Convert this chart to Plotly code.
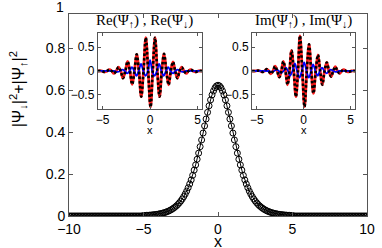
import numpy as np
import plotly.graph_objects as go

# ---- main curve |psi_down|^2 + |psi_up|^2 (step 0.1) ----
x_main = np.round(np.linspace(-10, 10, 201), 2)
dens_center = [
    0.0023, 0.0026, 0.0030, 0.0035, 0.0040, 0.0046, 0.0053, 0.0061, 0.0070, 0.0080,
    0.0092, 0.0106, 0.0122, 0.0140, 0.0160, 0.0184, 0.0211, 0.0242, 0.0278, 0.0318,
    0.0365, 0.0418, 0.0478, 0.0546, 0.0624, 0.0712, 0.0812, 0.0925, 0.105, 0.119,
    0.135, 0.153, 0.172, 0.194, 0.219, 0.244, 0.271, 0.300, 0.331, 0.363,
    0.396, 0.430, 0.463, 0.495, 0.526, 0.554, 0.578, 0.597, 0.612, 0.621,
    0.624,
    0.621, 0.612, 0.597, 0.578, 0.554, 0.526, 0.495, 0.463, 0.430, 0.396,
    0.363, 0.331, 0.300, 0.271, 0.244, 0.219, 0.194, 0.172, 0.153, 0.135,
    0.119, 0.105, 0.0925, 0.0812, 0.0712, 0.0624, 0.0546, 0.0478, 0.0418, 0.0365,
    0.0318, 0.0278, 0.0242, 0.0211, 0.0184, 0.0160, 0.0140, 0.0122, 0.0106, 0.0092,
    0.0080, 0.0070, 0.0061, 0.0053, 0.0046, 0.0040, 0.0035, 0.0030, 0.0026, 0.0023,
]
dens_tail_left = [0.0] * 50
dens_tail_right = [0.0] * 50
dens_main = dens_tail_left + dens_center + dens_tail_right

# ---- inset 1: Re(psi_up) (red) and Re(psi_down) (blue) ----
re_up_x = [-5.5, -5.1, -4.75, -4.51, -4.27, -4.03, -3.8, -3.56, -3.32, -3.08, -2.85, -2.6,
           -2.36, -2.12, -1.88, -1.64, -1.41, -1.17, -0.93, -0.69, -0.45, -0.2, 0.05, 0.28,
           0.52, 0.76, 1.0, 1.23, 1.47, 1.71, 1.95, 2.18, 2.41, 2.64, 2.87, 3.1, 3.33, 3.56,
           3.8, 4.03, 4.27, 4.51, 4.75, 5.1, 5.5]
re_up_y = [0, 0, -0.02, 0, 0.03, 0, -0.05, 0, 0.08, 0, -0.15, 0, 0.2, 0, -0.28, 0, 0.35, 0,
           -0.54, 0, 0.7, 0, -0.76, 0, 0.7, 0, -0.54, 0, 0.36, 0, -0.29, 0, 0.19, 0, -0.15, 0,
           0.08, 0, -0.05, 0, 0.03, 0, -0.02, 0, 0]
re_dn_x = [-5.5, -3.8, -3.4, -3.15, -2.9, -2.65, -2.4, -2.15, -1.9, -1.67, -1.43, -1.19,
           -0.95, -0.71, -0.47, -0.23, 0.0, 0.23, 0.47, 0.71, 0.95, 1.19, 1.43, 1.67, 1.9,
           2.15, 2.4, 2.65, 2.9, 3.15, 3.4, 3.8, 5.5]
re_dn_y = [0, 0, -0.02, 0, 0.03, 0, -0.05, 0, 0.08, 0, -0.1, 0, 0.15, 0, -0.1, 0, 0.23, 0,
           -0.1, 0, 0.15, 0, -0.1, 0, 0.08, 0, -0.05, 0, 0.03, 0, -0.02, 0, 0]

# ---- inset 2: Im(psi_up) (red) and Im(psi_down) (blue) ----
im_up_x = [-5.5, -5.15, -4.85, -4.62, -4.4, -4.17, -3.95, -3.72, -3.5, -3.27, -3.05, -2.82,
           -2.6, -2.38, -2.17, -1.94, -1.72, -1.51, -1.3, -1.06, -0.83, -0.61, -0.4, -0.15,
           0.09, 0.33, 0.57, 0.8, 1.04, 1.28, 1.52, 1.75, 1.98, 2.22, 2.46, 2.69, 2.92, 3.14,
           3.37, 3.6, 3.82, 4.05, 4.27, 4.5, 4.72, 5.1, 5.5]
im_up_y = [0, 0, 0.01, 0, -0.02, 0, 0.04, 0, -0.06, 0, 0.1, 0, -0.13, 0, 0.2, 0, -0.29, 0,
           0.43, 0, -0.54, 0, 0.74, 0, -0.75, 0, 0.56, 0, -0.47, 0, 0.34, 0, -0.29, 0, 0.18, 0,
           -0.12, 0, 0.09, 0, -0.05, 0, 0.03, 0, -0.02, 0, 0]
im_dn_x = [-5.5, -3.8, -3.4, -3.15, -2.9, -2.65, -2.4, -2.15, -1.9, -1.67, -1.45, -1.2,
           -0.95, -0.7, -0.45, -0.2, 0.05, 0.3, 0.55, 0.78, 1.0, 1.25, 1.5, 1.72, 1.95,
           2.2, 2.45, 2.67, 2.9, 3.15, 3.4, 3.8, 5.5]
im_dn_y = [0, 0, -0.02, 0, 0.03, 0, -0.04, 0, 0.07, 0, -0.1, 0, 0.16, 0, -0.14, 0, 0.18, 0,
           -0.14, 0, 0.14, 0, -0.1, 0, 0.07, 0, -0.05, 0, 0.03, 0, -0.02, 0, 0]

main_xticks = [-10, -5, 0, 5, 10]
main_yticks = [0, 0.2, 0.4, 0.6, 0.8]
main_ytop_label = "1"
inset_xticks = [-5, 0, 5]
inset_yticks = [-0.5, 0, 0.5]

SANS = "Liberation Sans, Arial, sans-serif"
SERIF = "Liberation Serif, Times New Roman, serif"
AXC = "#555"

fig = go.Figure()

fig.add_trace(go.Scatter(
    x=x_main, y=dens_main, mode="lines+markers",
    line=dict(color="black", width=1),
    marker=dict(symbol="circle-open", size=6, color="black", line=dict(width=1)),
    xaxis="x", yaxis="y", showlegend=False))

for (ux, uy, dx, dy, xa, ya) in [
    (re_up_x, re_up_y, re_dn_x, re_dn_y, "x2", "y2"),
    (im_up_x, im_up_y, im_dn_x, im_dn_y, "x3", "y3"),
]:
    fig.add_trace(go.Scatter(x=ux, y=uy, mode="lines", line=dict(color="#ff1a1a", width=2.8, shape="spline"),
                             xaxis=xa, yaxis=ya, showlegend=False))
    fig.add_trace(go.Scatter(x=dx, y=dy, mode="lines", line=dict(color="#0000ff", width=1.8, shape="spline"),
                             xaxis=xa, yaxis=ya, showlegend=False))
    fig.add_trace(go.Scatter(x=ux, y=uy, mode="lines",
                             line=dict(color="black", width=2.6, shape="spline", dash="2.5px,2.2px"),
                             xaxis=xa, yaxis=ya, showlegend=False))

def axis_style(size, tlen):
    return dict(showline=True, mirror="ticks", linecolor=AXC, linewidth=1,
                ticks="inside", ticklen=tlen, tickcolor=AXC, tickwidth=1,
                showgrid=False, zeroline=False, ticklabeloverflow="allow",
                tickfont=dict(family=SANS, size=size, color="black"))

L, R, T, B = 69, 7, 14, 32
W, H = 382, 248
pw, ph = W - L - R, H - T - B
PX_PER_UNIT_Y = 209.5          # 0 at y=216, 1 at y~6.5 (frame top sits below 1)
y_top = ph / PX_PER_UNIT_Y

def px(xp):
    return (xp - L) / pw

def py(yp):
    return (H - B - yp) / ph

fig.update_layout(
    width=W, height=H, autosize=False,
    margin=dict(l=L, r=R, t=T, b=B),
    paper_bgcolor="white", plot_bgcolor="white",
    xaxis=dict(range=[-10, 10], tickvals=main_xticks, domain=[0, 1], anchor="y", **axis_style(14, 4)),
    yaxis=dict(range=[0, y_top], tickvals=main_yticks, domain=[0, 1], anchor="x", **axis_style(14, 4)),
    xaxis2=dict(range=[-5.5, 5.5], tickvals=inset_xticks, domain=[px(98.5), px(206)], anchor="y2", **axis_style(12, 3)),
    yaxis2=dict(range=[-0.8, 0.8], tickvals=inset_yticks, domain=[py(109), py(33)], anchor="x2", **axis_style(12, 3)),
    xaxis3=dict(range=[-5.5, 5.5], tickvals=inset_xticks, domain=[px(257), px(363)], anchor="y3", **axis_style(12, 3)),
    yaxis3=dict(range=[-0.8, 0.8], tickvals=inset_yticks, domain=[py(109), py(33)], anchor="x3", **axis_style(12, 3)),
)

ann = [
    dict(text=main_ytop_label, x=px(66), y=py(7), xanchor="right", font=dict(family=SANS, size=14)),
    dict(text="Re(Ψ<sub>↑</sub>) , Re(Ψ<sub>↓</sub>)", x=px(147), y=py(21), font=dict(family=SERIF, size=15)),
    dict(text="Im(Ψ<sub>↑</sub>) , Im(Ψ<sub>↓</sub>)", x=px(310), y=py(21), font=dict(family=SERIF, size=15)),
    dict(text="x", x=px(152), y=py(130), font=dict(family=SANS, size=11)),
    dict(text="x", x=px(310), y=py(130), font=dict(family=SANS, size=11)),
    dict(text="x", x=px(222), y=py(241), font=dict(family=SANS, size=16)),
    dict(text="|Ψ<sub>↓</sub>|<sup>2</sup>+|Ψ<sub>↑</sub>|<sup>2</sup>", x=px(17), y=py(89),
         textangle=-90, font=dict(family=SANS, size=16)),
]
for a in ann:
    a.setdefault("xanchor", "center")
    a.update(xref="paper", yref="paper", showarrow=False, yanchor="middle")
    a["font"]["color"] = "black"
fig.update_layout(annotations=ann)

fig.write_html("out.html", config={"displayModeBar": False},
               post_script="document.body.style.margin='0px';")
